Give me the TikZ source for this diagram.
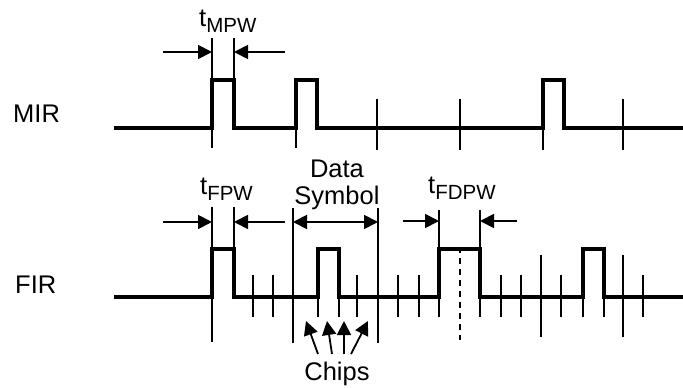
\documentclass[tikz,border=0pt]{standalone}
\usepackage{fontspec}
\setmainfont{Liberation Sans}
\usetikzlibrary{arrows.meta}
\newcommand{\subt}[1]{t\raisebox{-6pt}{\fontsize{20.5}{20.5}\selectfont #1}}
\begin{document}
\begin{tikzpicture}[x=1pt,y=-1pt,
  wave/.style={line width=3.4pt,line join=miter},
  thinln/.style={line width=1.8pt},
  dim/.style={line width=1.8pt,-{Triangle[length=14pt,width=14pt]}},
  dimboth/.style={line width=1.8pt,{Triangle[length=14pt,width=14pt]}-{Triangle[length=14pt,width=14pt]}},
  lbl/.style={font=\fontsize{25.5}{27}\selectfont,inner sep=0pt,anchor=base}]
\useasboundingbox (0,0) rectangle (683,388);
% labels
\node[lbl,anchor=base west] (mir) at (13,122) {MIR};
\node[lbl,anchor=base west] (fir) at (15,293) {FIR};
% MIR waveform
\draw[wave] (114,128) -- (212,128) -- (212,80) -- (234,80) -- (234,128) -- (296,128) -- (296,80) -- (317,80) -- (317,128) -- (543,128) -- (543,80) -- (564,80) -- (564,128) -- (683,128);
\draw[thinln] (212,38) -- (212,148);
\draw[thinln] (234,38) -- (234,80);
\draw[thinln] (296,128) -- (296,148);
\draw[thinln] (543,128) -- (543,150);
\foreach \x in {377,460,623} \draw[thinln] (\x,99) -- (\x,150);
% MIR t_MPW
\coordinate (m1a) at (163,52); \coordinate (m1b) at (212,52);
\coordinate (m2a) at (285,52); \coordinate (m2b) at (234,52);
\draw[dim] (m1a) -- (m1b);
\draw[dim] (m2a) -- (m2b);
\node[lbl,anchor=base west] (tmpw) at (199,26) {\subt{MPW}};
% FIR waveform
\draw[wave] (114,297) -- (212,297) -- (212,249) -- (234,249) -- (234,297) -- (318,297) -- (318,249) -- (339,249) -- (339,297) -- (439,297) -- (439,249) -- (480,249) -- (480,297) -- (583,297) -- (583,249) -- (604,249) -- (604,297) -- (683,297);
\draw[thinln] (212,207) -- (212,342);
\draw[thinln] (234,207) -- (234,249);
\foreach \x in {253,273,357,398,419,501,521,561,643} \draw[thinln] (\x,275) -- (\x,317);
\foreach \x in {318,339,583,604} \draw[thinln] (\x,297) -- (\x,317);
\draw[thinln] (439,210) -- (439,317);
\draw[thinln] (480,210) -- (480,317);
\foreach \x in {293,378} \draw[thinln] (\x,208) -- (\x,343);
\foreach \x in {541,623} \draw[thinln] (\x,255) -- (\x,337);
\draw[thinln,dash pattern=on 6pt off 5pt] (460,247) -- (460,340);
% FIR t_FPW
\coordinate (f1a) at (163,222); \coordinate (f1b) at (212,222);
\coordinate (f2a) at (285,222); \coordinate (f2b) at (234,222);
\draw[dim] (f1a) -- (f1b);
\draw[dim] (f2a) -- (f2b);
\node[lbl,anchor=base west] (tfpw) at (200,194) {\subt{FPW}};
% Data symbol
\coordinate (ds1) at (293,222); \coordinate (ds2) at (378,222);
\draw[dimboth] (ds1) -- (ds2);
\node[lbl] (data) at (337,177) {Data};
\node[lbl] (symbol) at (337,204) {Symbol};
% t_FDPW
\coordinate (d1a) at (403,221); \coordinate (d1b) at (439,221);
\coordinate (d2a) at (517,221); \coordinate (d2b) at (480,221);
\draw[dim] (d1a) -- (d1b);
\draw[dim] (d2a) -- (d2b);
\node[lbl,anchor=base west] (tfdpw) at (428,193) {\subt{FDPW}};
% Chips
\node[lbl] (chips) at (337,380) {Chips};
\coordinate (c1t) at (318,354); \coordinate (c1h) at (306,321);
\coordinate (c2t) at (332,354); \coordinate (c2h) at (327,321);
\coordinate (c3t) at (344,354); \coordinate (c3h) at (344,321);
\coordinate (c4t) at (351,354); \coordinate (c4h) at (368,321);
\foreach \i in {1,2,3,4} \draw[dim] (c\i t) -- (c\i h);
\end{tikzpicture}
\end{document}
